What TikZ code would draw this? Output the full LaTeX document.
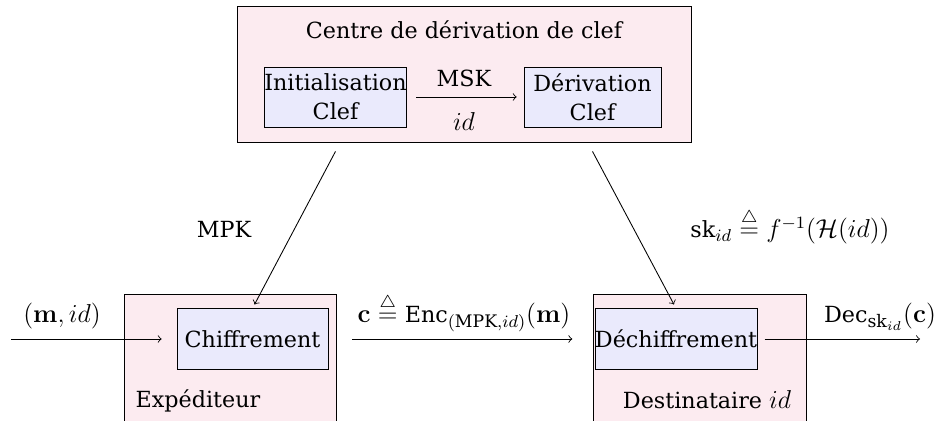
\documentclass[tikz,border=0pt]{standalone}
\usepackage{amsmath,amssymb}
\usepackage[no-math]{fontspec}
\setmainfont{DejaVu Serif}
\definecolor{outerfill}{RGB}{252,235,240}
\definecolor{innerfill}{RGB}{234,234,252}
\tikzset{
  every node/.style={font=\fontsize{10.3}{13.5}\selectfont},
  outerbox/.style={draw, fill=outerfill, inner sep=0pt},
  innerbox/.style={draw, fill=innerfill, inner sep=0pt, align=center},
  lbl/.style={inner sep=0pt, anchor=base},
  mlbl/.style={inner sep=0pt, anchor=base, font=\fontsize{12}{13.5}\selectfont},
  conn/.style={->, line width=0.4pt},
}
\begin{document}
\begin{tikzpicture}[x=0.463pt, y=-0.463pt]
\useasboundingbox (0,0) rectangle (936,421);
\clip (0,0) rectangle (936,421);
% key derivation centre
\node[outerbox, minimum width=210.2pt, minimum height=63pt] (kdc) at (464,74) {};
\node[lbl] (title) at (464,39) {Centre de dérivation de clef};
\node[innerbox, minimum width=62.5pt, minimum height=27.8pt] (init) at (335.5,97) {Initialisation\\Clef};
\node[innerbox, minimum width=63.4pt, minimum height=27.8pt] (deriv) at (592.5,97) {Dérivation\\Clef};
\node[lbl] (msk) at (464,87) {MSK};
\node[mlbl] (idl) at (464,131) {$id$};
\draw[conn, shorten <=4.2pt, shorten >=3.2pt] (init) -- (deriv);
% sender / receiver
\node[outerbox, minimum width=98.2pt, minimum height=67.6pt] (exped) at (230,367) {};
\node[innerbox, minimum width=69.9pt, minimum height=28pt] (chif) at (252.5,339) {Chiffrement};
\node[lbl] (explbl) at (198,408) {Expéditeur};
\node[outerbox, minimum width=98.6pt, minimum height=67.6pt] (dest) at (699.5,367) {};
\node[innerbox, minimum width=69.9pt, minimum height=28pt] (dech) at (676,339) {Déchiffrement};
\node[lbl] (destlbl) at (707,409) {Destinataire {\fontsize{12}{13.5}\selectfont$id$}};
% connectors
\coordinate (inL) at (11,339);
\coordinate (outR) at (920,339);
\coordinate (initb) at ([yshift=-11.1pt]init.south);
\coordinate (derivb) at ([yshift=-11.1pt]deriv.south);
\draw[conn, shorten >=6.9pt] (inL) -- (chif.west);
\draw[conn, shorten <=11pt, shorten >=10.3pt] (chif.east) -- (dech.west);
\draw[conn, shorten <=3.3pt] (dech.east) -- (outR);
\draw[conn, shorten >=2pt] (initb) -- (chif.north);
\draw[conn, shorten >=2pt] (derivb) -- (dech.north);
% labels
\node[mlbl] (minput) at (62,323) {$(\mathbf{m},id)$};
\node[mlbl] (enclbl) at (464,323) {$\mathbf{c}\stackrel{\triangle}{=}\text{\fontsize{10.3}{12}\selectfont Enc}_{(\text{MPK},id)}(\mathbf{m})$};
\node[mlbl] (declbl) at (880,323) {$\text{\fontsize{10.3}{12}\selectfont Dec}_{\text{sk}_{id}}(\mathbf{c})$};
\node[lbl] (mpk) at (224,238) {MPK};
\node[mlbl] (sklbl) at (790,238) {$\text{\fontsize{10.3}{12}\selectfont sk}_{id}\stackrel{\triangle}{=}f^{-1}(\mathcal{H}(id))$};
\end{tikzpicture}
\end{document}
